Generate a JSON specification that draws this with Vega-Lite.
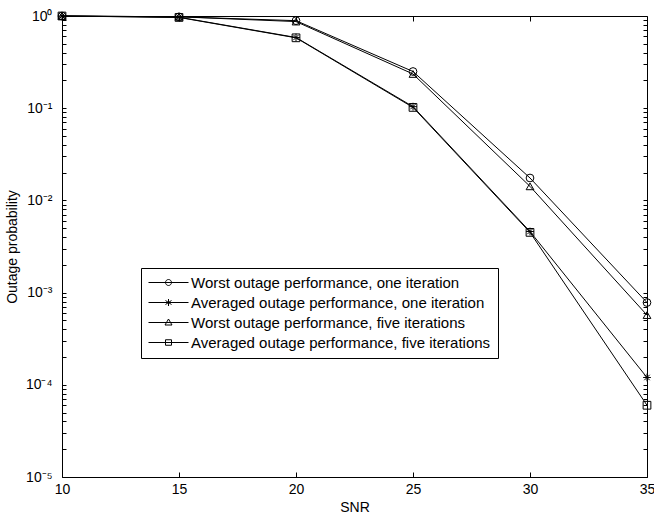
{
  "$schema": "https://vega.github.io/schema/vega-lite/v6.json",
  "autosize": {"type": "none"},
  "width": 585,
  "height": 461,
  "padding": {"left": 62, "top": 16, "right": 7, "bottom": 42},
  "background": "white",
  "config": {
    "font": "Liberation Sans",
    "view": {"stroke": "black", "strokeWidth": 1},
    "axis": {"grid": false, "domain": false, "labelFont": "Liberation Sans", "titleFont": "Liberation Sans", "labelColor": "black", "titleColor": "black", "tickColor": "black", "labelFontSize": 14, "titleFontSize": 14, "titleFontWeight": "normal", "labelOverlap": false, "labelFlush": false}
  },
  "data": {"values": [
    {"series": "Worst outage performance, one iteration", "snr": 10, "p": 1},
    {"series": "Worst outage performance, one iteration", "snr": 15, "p": 0.98},
    {"series": "Worst outage performance, one iteration", "snr": 20, "p": 0.89},
    {"series": "Worst outage performance, one iteration", "snr": 25, "p": 0.25},
    {"series": "Worst outage performance, one iteration", "snr": 30, "p": 0.0175},
    {"series": "Worst outage performance, one iteration", "snr": 35, "p": 0.00078},
    {"series": "Averaged outage performance, one iteration", "snr": 10, "p": 1},
    {"series": "Averaged outage performance, one iteration", "snr": 15, "p": 0.97},
    {"series": "Averaged outage performance, one iteration", "snr": 20, "p": 0.585},
    {"series": "Averaged outage performance, one iteration", "snr": 25, "p": 0.104},
    {"series": "Averaged outage performance, one iteration", "snr": 30, "p": 0.0046},
    {"series": "Averaged outage performance, one iteration", "snr": 35, "p": 0.00012},
    {"series": "Worst outage performance, five iterations", "snr": 10, "p": 1},
    {"series": "Worst outage performance, five iterations", "snr": 15, "p": 0.98},
    {"series": "Worst outage performance, five iterations", "snr": 20, "p": 0.87},
    {"series": "Worst outage performance, five iterations", "snr": 25, "p": 0.235},
    {"series": "Worst outage performance, five iterations", "snr": 30, "p": 0.0142},
    {"series": "Worst outage performance, five iterations", "snr": 35, "p": 0.00057},
    {"series": "Averaged outage performance, five iterations", "snr": 10, "p": 1},
    {"series": "Averaged outage performance, five iterations", "snr": 15, "p": 0.965},
    {"series": "Averaged outage performance, five iterations", "snr": 20, "p": 0.58},
    {"series": "Averaged outage performance, five iterations", "snr": 25, "p": 0.102},
    {"series": "Averaged outage performance, five iterations", "snr": 30, "p": 0.0045},
    {"series": "Averaged outage performance, five iterations", "snr": 35, "p": 0.00006}
  ]},
  "resolve": {"axis": {"x": "independent", "y": "independent"}, "scale": {"shape": "independent"}, "legend": {"shape": "independent"}},
  "layer": [
    {
      "mark": {"type": "line", "color": "black", "strokeWidth": 1},
      "encoding": {
        "x": {"field": "snr", "type": "quantitative", "scale": {"domain": [10, 35], "nice": false},
              "axis": {"orient": "bottom", "values": [10, 15, 20, 25, 30, 35], "tickSize": -5, "labelPadding": 10, "title": "SNR", "titlePadding": 4}},
        "y": {"field": "p", "type": "quantitative", "scale": {"type": "log", "domain": [0.00001, 1], "nice": false},
              "axis": {"orient": "left", "values": [0.00001,0.00002,0.00003,0.00004,0.00005,0.00006,0.00007,0.00008,0.00009,0.0001,0.0002,0.0003,0.0004,0.0005,0.0006,0.0007,0.0008,0.0009,0.001,0.002,0.003,0.004,0.005,0.006,0.007,0.008,0.009,0.01,0.02,0.03,0.04,0.05,0.06,0.07,0.08,0.09,0.1,0.2,0.3,0.4,0.5,0.6,0.7,0.8,0.9,1],
                       "tickSize": -4, "labelPadding": 14,
                       "labelExpr": "abs(log(datum.value)/LN10 - round(log(datum.value)/LN10)) < 0.000001 ? '10' + ['⁰','⁻¹','⁻²','⁻³','⁻⁴','⁻⁵'][-round(log(datum.value)/LN10)] : ''",
                       "title": "Outage probability", "titlePadding": 6}},
        "detail": {"field": "series"}
      }
    },
    {
      "mark": {"type": "point", "filled": false, "stroke": "black", "strokeWidth": 1, "size": 60, "opacity": 1},
      "encoding": {
        "x": {"field": "snr", "type": "quantitative",
              "axis": {"orient": "top", "values": [15, 20, 25, 30], "tickSize": -5, "labels": false, "title": null}},
        "y": {"field": "p", "type": "quantitative",
              "axis": {"orient": "right", "values": [0.00001,0.00002,0.00003,0.00004,0.00005,0.00006,0.00007,0.00008,0.00009,0.0001,0.0002,0.0003,0.0004,0.0005,0.0006,0.0007,0.0008,0.0009,0.001,0.002,0.003,0.004,0.005,0.006,0.007,0.008,0.009,0.01,0.02,0.03,0.04,0.05,0.06,0.07,0.08,0.09,0.1,0.2,0.3,0.4,0.5,0.6,0.7,0.8,0.9,1], "tickSize": -4, "labels": false, "title": null}},
        "shape": {"field": "series", "type": "nominal",
          "scale": {"domain": ["Worst outage performance, one iteration", "Averaged outage performance, one iteration", "Worst outage performance, five iterations", "Averaged outage performance, five iterations"],
                    "range": ["circle", "M-1,0L1,0M0,-1L0,1M-0.7,-0.7L0.7,0.7M-0.7,0.7L0.7,-0.7", "triangle-up", "square"]},
          "legend": null
        }
      }
    },
    {
      "mark": {"type": "point", "filled": false, "stroke": "black", "strokeWidth": 1, "opacity": 0},
      "encoding": {
        "x": {"field": "snr", "type": "quantitative", "axis": null},
        "y": {"field": "p", "type": "quantitative", "axis": null},
        "shape": {"field": "series", "type": "nominal",
          "scale": {"domain": ["Worst outage performance, one iteration", "Averaged outage performance, one iteration", "Worst outage performance, five iterations", "Averaged outage performance, five iterations"],
                    "range": ["M-1.4,0L6.6,0M2,0A0.6,0.6 0 1,1 3.2,0A0.6,0.6 0 1,1 2,0", "M-1.4,0L6.6,0M2.6,-0.7L2.6,0.7M2,-0.4L3.2,0.4M2,0.4L3.2,-0.4", "M-1.4,0L6.6,0M2.6,-0.7L3.3,0.5L1.9,0.5Z", "M-1.4,0L6.6,0M2,-0.55L3.2,-0.55L3.2,0.55L2,0.55Z"]},
          "legend": {"title": null, "orient": "none", "legendX": 79, "legendY": 252, "padding": 7, "fillColor": "white", "strokeColor": "black", "cornerRadius": 0,
                     "symbolSize": 100, "symbolStrokeColor": "black", "symbolStrokeWidth": 1, "symbolFillColor": "transparent", "symbolOpacity": 1,
                     "labelFont": "Liberation Sans", "labelFontSize": 15, "labelColor": "black", "labelOffset": 28, "rowPadding": 4, "labelLimit": 400}
        }
      }
    }
  ]
}
